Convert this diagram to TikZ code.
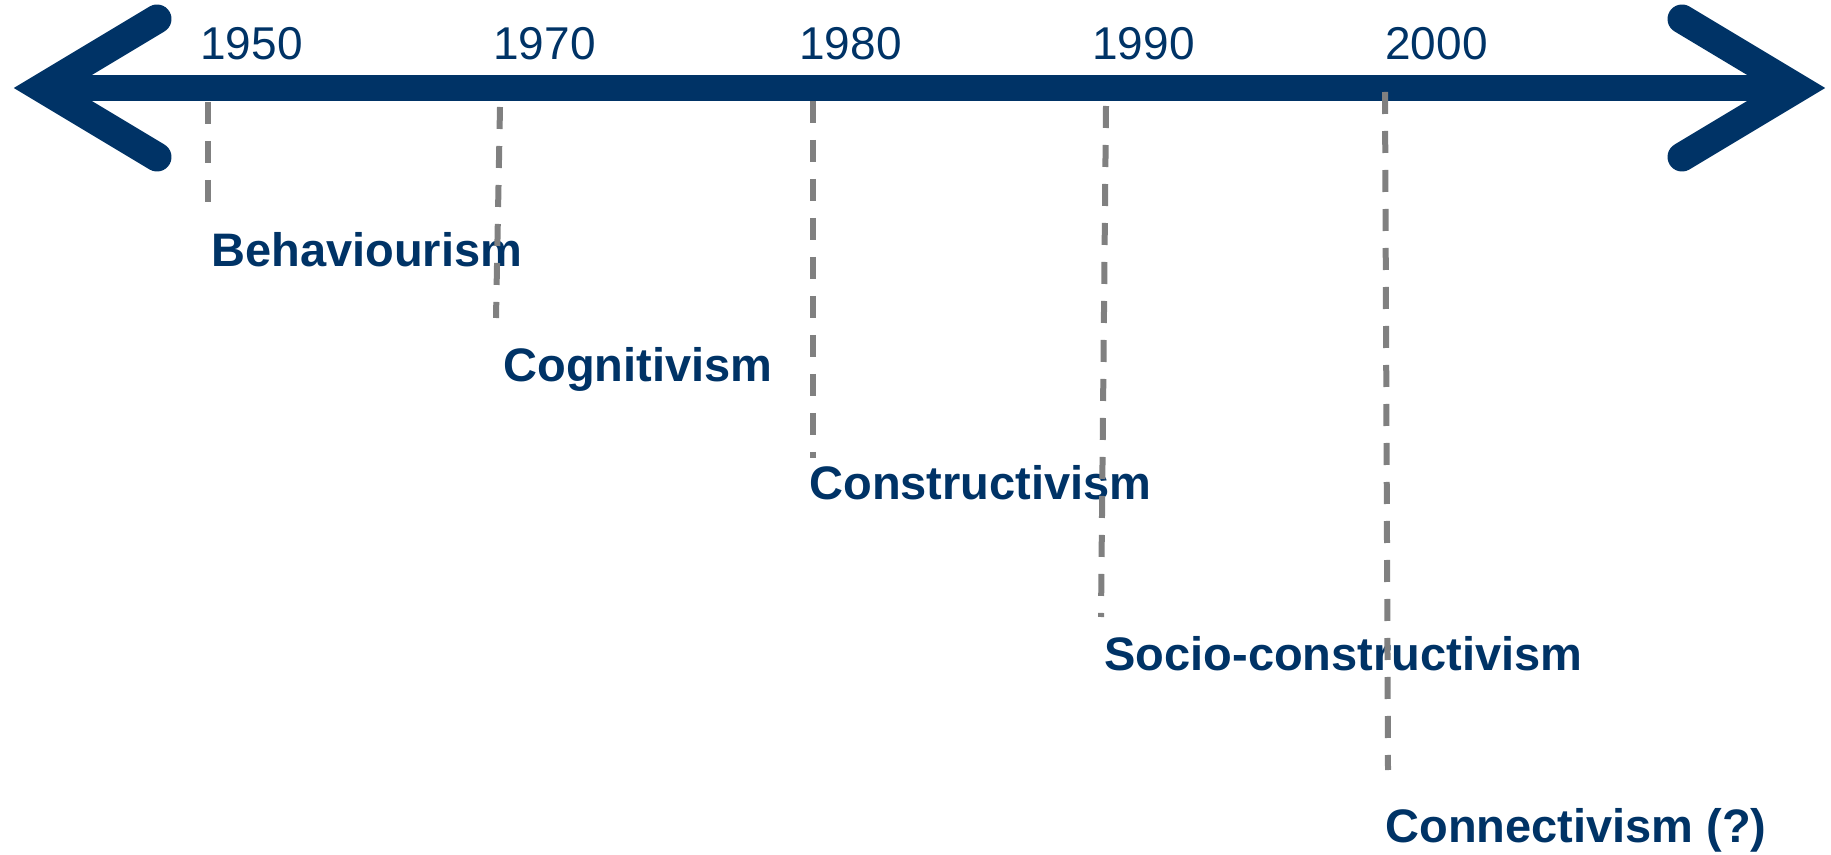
\documentclass[tikz,border=0pt]{standalone}
\usepackage{fontspec}
\setmainfont{Liberation Sans}
\usetikzlibrary{positioning}

\definecolor{navy}{RGB}{0,51,102}
\definecolor{guidegray}{RGB}{128,128,128}

\begin{document}
\begin{tikzpicture}[x=0.5pt, y=-0.5pt,
  timeline/.style={draw=navy, line width=13pt, line join=miter},
  armline/.style={draw=navy, line width=14.5pt, line join=miter, line cap=round},
  guide/.style={draw=guidegray, line width=3pt, dash pattern=on 11pt off 8.5pt},
  yearlabel/.style={anchor=base west, inner sep=0pt, text=navy, font=\fontsize{23pt}{27pt}\selectfont},
  eralabel/.style={anchor=base west, inner sep=0pt, text=navy, font=\fontsize{23.5pt}{28pt}\selectfont\bfseries}]
\useasboundingbox (0,0) rectangle (1831,855);

% Double-headed time axis
\coordinate (ltip) at (42,88);
\coordinate (rtip) at (1797,88);
\coordinate (ltop) at (157,19);
\coordinate (lbot) at (157,157);
\coordinate (rtop) at (1682,19);
\coordinate (rbot) at (1682,157);
\draw[timeline] (ltip) -- (rtip);
\draw[armline] (ltop) -- (ltip) -- (lbot);
\draw[armline] (rtop) -- (rtip) -- (rbot);

% Years above the axis
\node (y1950) [yearlabel] at (200,60) {1950};
\node (y1970) [yearlabel] at (493,60) {1970};
\node (y1980) [yearlabel] at (799,60) {1980};
\node (y1990) [yearlabel] at (1092,60) {1990};
\node (y2000) [yearlabel] at (1385,60) {2000};

% Learning theories
\node (behaviourism) [eralabel] at (211,267) {Behaviourism};
\node (cognitivism) [eralabel] at (503,382) {Cognitivism};
\node (constructivism) [eralabel] at (809,499) {Constructivism};
\node (socioconstr) [eralabel] at (1104,670) {Socio-constructivism};
\node (connectivism) [eralabel] at (1385,842) {Connectivism (?)};

% Dashed drop lines from the axis
\coordinate (t1950) at (208,102);
\coordinate (b1950) at (208,204);
\coordinate (t1970) at (500,107);
\coordinate (b1970) at (496,318);
\coordinate (t1980) at (813,101);
\coordinate (b1980) at (813,458);
\coordinate (t1990) at (1106,106);
\coordinate (b1990) at (1101,617);
\coordinate (t2000) at (1385,92);
\coordinate (b2000) at (1388,770);
\draw[guide] (t1950) -- (b1950);
\draw[guide] (t1970) -- (b1970);
\draw[guide] (t1980) -- (b1980);
\draw[guide] (t1990) -- (b1990);
\draw[guide] (t2000) -- (b2000);
\end{tikzpicture}
\end{document}
